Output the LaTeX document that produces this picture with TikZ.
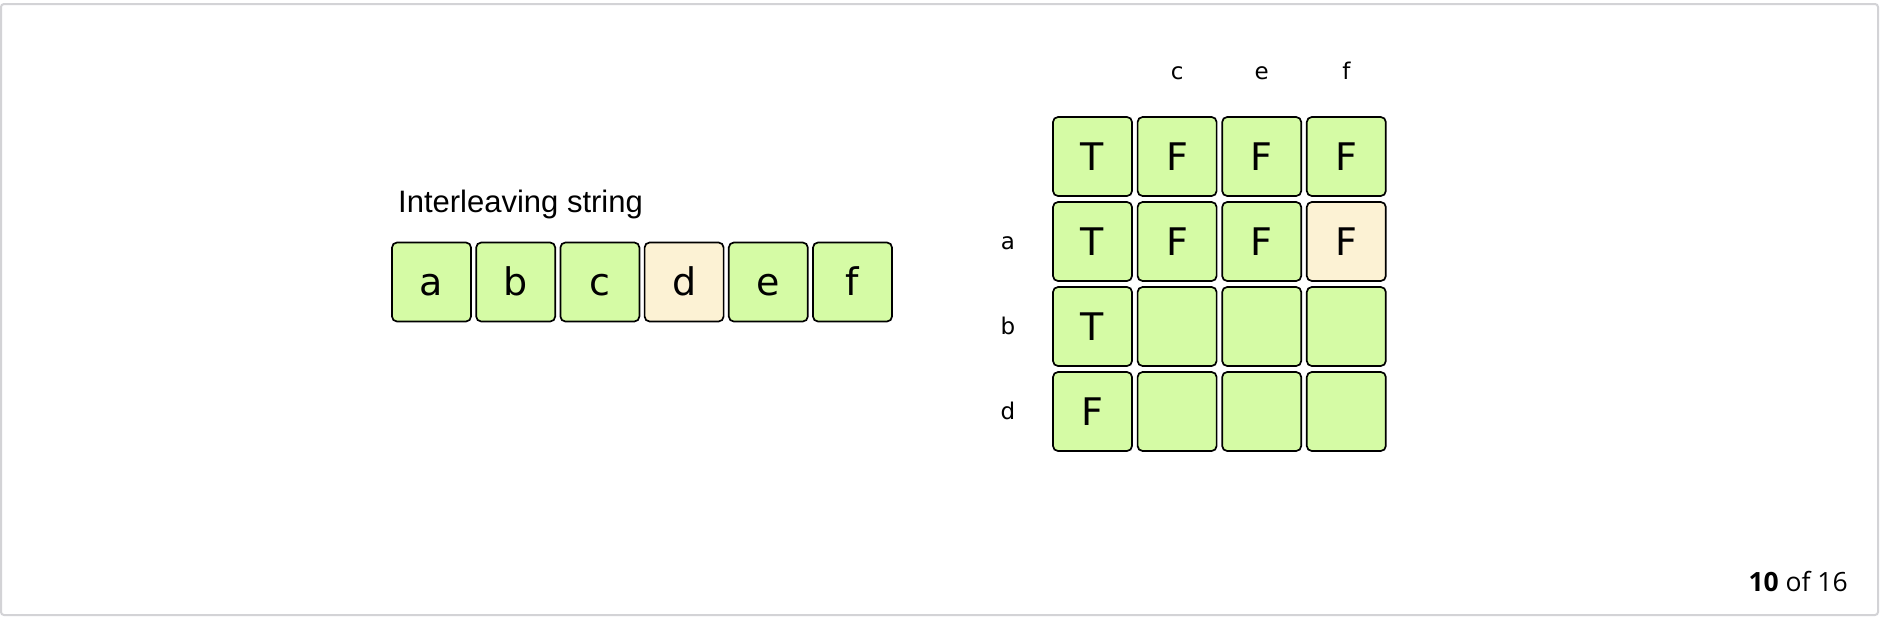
\documentclass[tikz,border=0pt]{standalone}
\usepackage{fontspec}
\setmainfont{DejaVu Sans}
\newfontfamily\titlefont{Liberation Sans}
\newfontfamily\pagefont{Open Sans}
\definecolor{cellgreen}{HTML}{D5FBA5}
\definecolor{cellcream}{HTML}{FCF2D4}
\definecolor{framegray}{HTML}{D3D3D6}
\begin{document}
\begin{tikzpicture}[x=1pt,y=-1pt,
  cell/.style={draw=black, line width=1.7pt, rounded corners=5pt, fill=cellgreen,
    minimum width=79pt, minimum height=79pt, inner sep=0pt,
    text height=27.7pt, text depth=0pt, font=\fontsize{38}{40}\selectfont},
  hot/.style={fill=cellcream},
  axislabel/.style={anchor=base, inner sep=0pt, font=\fontsize{23}{25}\selectfont}]
\useasboundingbox (0,0) rectangle (1880,622);
\draw[framegray, line width=2pt, rounded corners=3pt] (1,4) rectangle (1878,615);

% title
\node[anchor=base west, inner sep=0pt, font=\titlefont\fontsize{31}{33}\selectfont] (title) at (398,212.7) {Interleaving string};

% interleaving string
\foreach \ch [count=\i from 0] in {a,b,c,d,e,f}{
  \ifnum\i=3
    \node[cell, hot] (s\i) at ({431.5+84.2*\i},282) {\ch};
  \else
    \node[cell] (s\i) at ({431.5+84.2*\i},282) {\ch};
  \fi
}

% column labels
\node[axislabel] (cc) at ({1092.5+84.6*1},79.3) {c};
\node[axislabel] (ce) at ({1092.5+84.6*2},79.3) {e};
\node[axislabel] (cf) at ({1092.5+84.6*3},79.3) {f};
% row labels
\node[axislabel] (ra) at (1008,{156.5+85*1+7.5}) {a};
\node[axislabel] (rb) at (1008,{156.5+85*2+7.5}) {b};
\node[axislabel] (rd) at (1008,{156.5+85*3+7.5}) {d};

% grid
\node[cell] (g00) at ({1092.5+84.6*0},{156.5+85*0}) {T};
\node[cell] (g01) at ({1092.5+84.6*1},{156.5+85*0}) {F};
\node[cell] (g02) at ({1092.5+84.6*2},{156.5+85*0}) {F};
\node[cell] (g03) at ({1092.5+84.6*3},{156.5+85*0}) {F};
\node[cell] (g10) at ({1092.5+84.6*0},{156.5+85*1}) {T};
\node[cell] (g11) at ({1092.5+84.6*1},{156.5+85*1}) {F};
\node[cell] (g12) at ({1092.5+84.6*2},{156.5+85*1}) {F};
\node[cell, hot] (g13) at ({1092.5+84.6*3},{156.5+85*1}) {F};
\node[cell] (g20) at ({1092.5+84.6*0},{156.5+85*2}) {T};
\node[cell] (g21) at ({1092.5+84.6*1},{156.5+85*2}) {};
\node[cell] (g22) at ({1092.5+84.6*2},{156.5+85*2}) {};
\node[cell] (g23) at ({1092.5+84.6*3},{156.5+85*2}) {};
\node[cell] (g30) at ({1092.5+84.6*0},{156.5+85*3}) {F};
\node[cell] (g31) at ({1092.5+84.6*1},{156.5+85*3}) {};
\node[cell] (g32) at ({1092.5+84.6*2},{156.5+85*3}) {};
\node[cell] (g33) at ({1092.5+84.6*3},{156.5+85*3}) {};

% page counter
\node[anchor=base east, inner sep=0pt, font=\pagefont\fontsize{26.5}{28}\selectfont] (pager) at (1848,591) {\textbf{10} of 16};
\end{tikzpicture}
\end{document}
